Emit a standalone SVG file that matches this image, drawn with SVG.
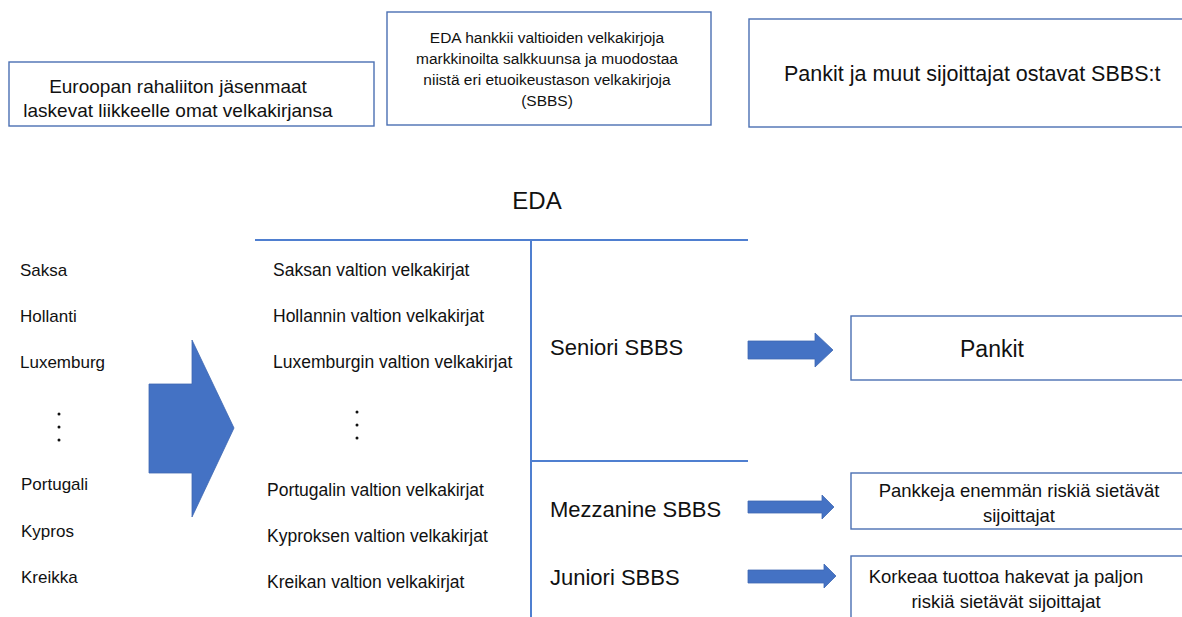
<svg xmlns="http://www.w3.org/2000/svg" width="1182" height="617" viewBox="0 0 1182 617">
<style>
.box{fill:#fff;stroke:#4a6fb3;stroke-width:1.4}
.t{font-family:"Liberation Sans",Arial,sans-serif;fill:#111}
.c{text-anchor:middle}
.ln{stroke:#4f7fd0;stroke-width:2;fill:none}
.arr{fill:#4472C4;stroke:#3f68b3;stroke-width:0.8}
</style>
<rect width="1182" height="617" fill="#fff"/>
<g id="box-jasenmaat">
<rect class="box" x="9" y="62" width="365" height="64"/>
<text class="t c" x="178" y="93" font-size="19">Euroopan rahaliiton jäsenmaat</text>
<text class="t c" x="178" y="117" font-size="19">laskevat liikkeelle omat velkakirjansa</text>
</g>
<g id="box-eda-desc">
<rect class="box" x="387" y="12" width="324" height="113"/>
<text class="t c" x="547" y="43" font-size="15.5">EDA hankkii valtioiden velkakirjoja</text>
<text class="t c" x="547" y="64" font-size="15.5">markkinoilta salkkuunsa ja muodostaa</text>
<text class="t c" x="547" y="85" font-size="15.5">niistä eri etuoikeustason velkakirjoja</text>
<text class="t c" x="547" y="106" font-size="15.5">(SBBS)</text>
</g>
<g id="box-pankit-ostavat">
<rect class="box" x="749" y="19" width="445" height="108"/>
<text class="t" x="784" y="81" font-size="21.5">Pankit ja muut sijoittajat ostavat SBBS:t</text>
</g>
<g id="eda-title">
<text class="t c" x="537" y="209" font-size="24">EDA</text>
</g>
<g id="connectors">
<line class="ln" x1="255" y1="240" x2="748" y2="240"/>
<line class="ln" x1="531" y1="240" x2="531" y2="617"/>
<line class="ln" x1="531" y1="461" x2="748" y2="461" stroke-width="1.4"/>
<polygon class="arr" points="149,384 192,384 192,340 234,428 192,517 192,473 149,473"/>
<polygon class="arr" points="748,341 815,341 815,333 833,350 815,367 815,359 748,359"/>
<polygon class="arr" points="748,501 822,501 822,495 834,507 822,519 822,513 748,513"/>
<polygon class="arr" points="748,570 824,570 824,564 836,576 824,588 824,583 748,583"/>
</g>
<g id="countries">
<text class="t" x="20" y="276" font-size="17">Saksa</text>
<text class="t" x="20" y="322" font-size="17">Hollanti</text>
<text class="t" x="20" y="368" font-size="17">Luxemburg</text>
<circle cx="59" cy="414" r="1.5" fill="#111"/>
<circle cx="59" cy="427" r="1.5" fill="#111"/>
<circle cx="59" cy="440" r="1.5" fill="#111"/>
<text class="t" x="21" y="490" font-size="17">Portugali</text>
<text class="t" x="21" y="537" font-size="17">Kypros</text>
<text class="t" x="21" y="583" font-size="17">Kreikka</text>
</g>
<g id="bonds">
<text class="t" x="273" y="276" font-size="17.5">Saksan valtion velkakirjat</text>
<text class="t" x="273" y="322" font-size="17.5">Hollannin valtion velkakirjat</text>
<text class="t" x="273" y="368" font-size="17.5">Luxemburgin valtion velkakirjat</text>
<circle cx="357" cy="412" r="1.5" fill="#111"/>
<circle cx="357" cy="425" r="1.5" fill="#111"/>
<circle cx="357" cy="438" r="1.5" fill="#111"/>
<text class="t" x="267" y="496" font-size="17.5">Portugalin valtion velkakirjat</text>
<text class="t" x="267" y="542" font-size="17.5">Kyproksen valtion velkakirjat</text>
<text class="t" x="267" y="588" font-size="17.5">Kreikan valtion velkakirjat</text>
</g>
<g id="tranches">
<text class="t" x="550" y="355" font-size="22">Seniori SBBS</text>
<text class="t" x="550" y="517" font-size="22">Mezzanine SBBS</text>
<text class="t" x="550" y="585" font-size="22">Juniori SBBS</text>
</g>
<g id="box-pankit">
<rect class="box" x="851" y="316" width="345" height="64"/>
<text class="t" x="960" y="357" font-size="23">Pankit</text>
</g>
<g id="box-mezz">
<rect class="box" x="851" y="473" width="345" height="56"/>
<text class="t c" x="1019" y="497" font-size="18.5">Pankkeja enemmän riskiä sietävät</text>
<text class="t c" x="1019" y="522" font-size="18.5">sijoittajat</text>
</g>
<g id="box-juniori">
<rect class="box" x="851" y="556" width="345" height="80"/>
<text class="t c" x="1006" y="583" font-size="18.5">Korkeaa tuottoa hakevat ja paljon</text>
<text class="t c" x="1006" y="608" font-size="18.5">riskiä sietävät sijoittajat</text>
</g>
</svg>
